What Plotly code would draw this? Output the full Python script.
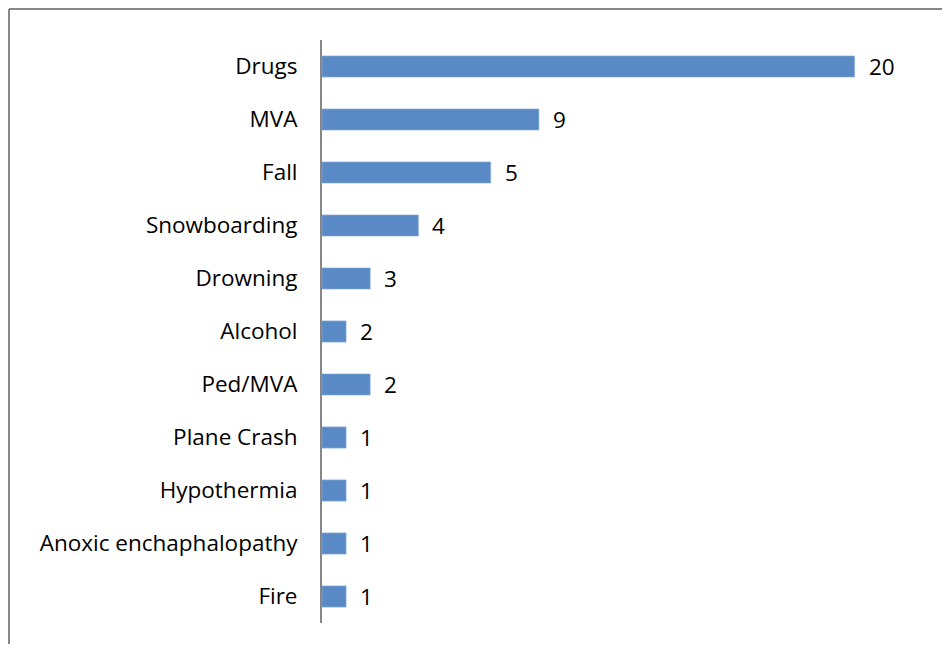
import plotly.graph_objects as go

categories = ["Drugs", "MVA", "Fall", "Snowboarding", "Drowning", "Alcohol",
              "Ped/MVA", "Plane Crash", "Hypothermia", "Anoxic enchaphalopathy", "Fire"]
bar_values = [22.1, 9, 7, 4, 2, 1, 2, 1, 1, 1, 1]
label_values = ["20", "9", "5", "4", "3", "2", "2", "1", "1", "1", "1"]

# page body has an 8px margin; figure coords = screen coords - 8
W, H = 935, 637
ml, mr, mt, mb = 314, 43, 32, 22
pw, ph = W - ml - mr, H - mt - mb
FS = 22.5

fig = go.Figure()
fig.add_trace(go.Bar(
    y=categories, x=bar_values, orientation="h",
    marker=dict(color="#5A8AC6", line=dict(color="#8EAEDA", width=0.6)),
    hoverinfo="skip",
))

for c, v, t in zip(categories, bar_values, label_values):
    fig.add_annotation(x=v, y=c, text=t, showarrow=False, xanchor="left",
                       xshift=12, font=dict(size=FS, color="#000000", family="Open Sans"))

border = "#878787"
fig.add_shape(type="line", xref="paper", yref="paper",
              x0=(1 - ml) / pw, x1=(W - ml - 1) / pw,
              y0=1 + (mt - 1) / ph, y1=1 + (mt - 1) / ph,
              line=dict(color=border, width=2))
fig.add_shape(type="line", xref="paper", yref="paper",
              x0=(1 - ml) / pw, x1=(1 - ml) / pw,
              y0=1 + (mt - 1) / ph, y1=-(mb - 1) / ph,
              line=dict(color=border, width=2))

fig.update_layout(
    width=W, height=H,
    margin=dict(l=ml, r=mr, t=mt, b=mb),
    paper_bgcolor="white", plot_bgcolor="white",
    bargap=0.6, showlegend=False,
    font=dict(family="Open Sans", size=FS, color="#000000"),
    xaxis=dict(range=[0, pw / 24.1], visible=False, fixedrange=True),
    yaxis=dict(autorange="reversed", showline=True, linecolor=border, linewidth=2,
               ticks="", showgrid=False, ticklabelstandoff=18,
               tickfont=dict(size=FS, family="Open Sans", color="#000000")),
)

fig.write_html("out.html")
